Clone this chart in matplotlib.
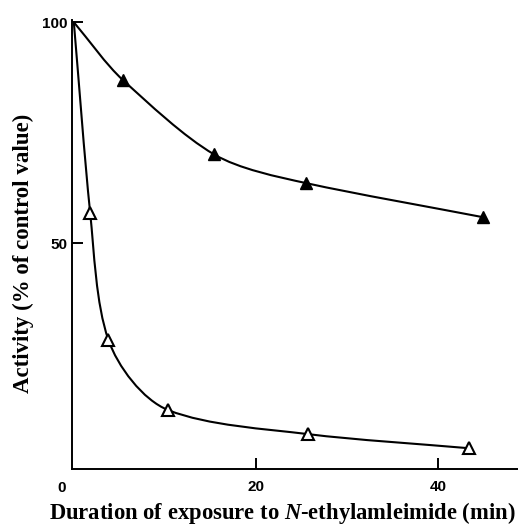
import numpy as np
import matplotlib
import matplotlib.pyplot as plt
from matplotlib.path import Path
from matplotlib.patches import PathPatch
matplotlib.use('Agg')

# readings from the figure
time_filled = [0, 5.4, 15.4, 25.5, 44.9]
activity_filled = [100, 86.9, 70.1, 63.6, 55.9]
time_open = [0, 1.8, 3.8, 10.4, 25.7, 43.4]
activity_open = [100, 56.8, 28.1, 12.2, 6.8, 3.6]

x_ticks = [20, 40]
y_ticks = [50, 100]

plt.rcParams['mathtext.fontset'] = 'custom'
plt.rcParams['mathtext.rm'] = 'Liberation Serif:bold'
plt.rcParams['mathtext.it'] = 'Liberation Serif:italic:bold'
plt.rcParams['mathtext.bf'] = 'Liberation Serif:bold'

# rough pixel scale per data unit, so the curve is shaped in screen-like space
SX, SY = 9.1, 4.42


def smooth_path(xs, ys):
    """Smooth freehand-like curve through the points (cubic Bezier pieces,
    tangent at each point mixes the neighbouring chords, longer one wins)."""
    pts = np.column_stack([np.asarray(xs) * SX, np.asarray(ys) * SY])
    pts = pts.astype(float)
    chords = np.diff(pts, axis=0)
    lengths = np.linalg.norm(chords, axis=1)
    tangents = [chords[0] / lengths[0]]
    for i in range(1, len(pts) - 1):
        t = chords[i - 1] * lengths[i - 1] + chords[i] * lengths[i]
        tangents.append(t / np.linalg.norm(t))
    tangents.append(chords[-1] / lengths[-1])
    verts = [pts[0]]
    codes = [Path.MOVETO]
    for i in range(len(pts) - 1):
        h = lengths[i] * 0.3
        verts += [pts[i] + tangents[i] * h, pts[i + 1] - tangents[i + 1] * h,
                  pts[i + 1]]
        codes += [Path.CURVE4] * 3
    verts = np.array(verts) / np.array([SX, SY])
    return Path(verts, codes)


fig = plt.figure(figsize=(5.18, 5.25), dpi=100)
ax = fig.add_axes([72 / 518, 56 / 525, 446 / 518, 449 / 525])

for xs, ys in [(time_filled, activity_filled), (time_open, activity_open)]:
    ax.add_patch(PathPatch(smooth_path(xs, ys), facecolor='none',
                           edgecolor='black', lw=1.5, zorder=2))

ax.plot(time_filled[1:], activity_filled[1:], linestyle='none', marker='^',
        markersize=9, color='black', zorder=3)
ax.plot(time_open[1:], activity_open[1:], linestyle='none', marker='^',
        markersize=9, markerfacecolor='white', markeredgecolor='black',
        markeredgewidth=1.5, zorder=3)

ax.set_xlim(-0.2, 48.8)
ax.set_ylim(-1.1, 100.5)
ax.spines['top'].set_visible(False)
ax.spines['right'].set_visible(False)
ax.spines['left'].set_linewidth(1.4)
ax.spines['bottom'].set_linewidth(1.4)

ax.set_xticks(x_ticks)
ax.set_yticks(y_ticks)
ax.tick_params(direction='in', length=8, width=1.4, labelsize=11)
ax.tick_params(axis='x', pad=8)
ax.tick_params(axis='y', pad=3.5)
for lab in ax.get_xticklabels() + ax.get_yticklabels():
    lab.set_family('Liberation Sans')
    lab.set_weight('bold')
ax.text(-0.9, -3.9, '0', ha='right', va='top', fontsize=11,
        family='Liberation Sans', weight='bold', clip_on=False)

ax.set_xlabel(r'Duration of exposure to $\it{N}$-ethylamleimide (min)',
              family='Liberation Serif', weight='bold', fontsize=16.3,
              va='center')
ax.set_ylabel('Activity (% of control value)', family='Liberation Serif',
              weight='bold', fontsize=16.5)
ax.xaxis.set_label_coords(0.471, -0.097)
ax.yaxis.set_label_coords(-0.085, 0.481)

fig.savefig('out.png', dpi=100)
